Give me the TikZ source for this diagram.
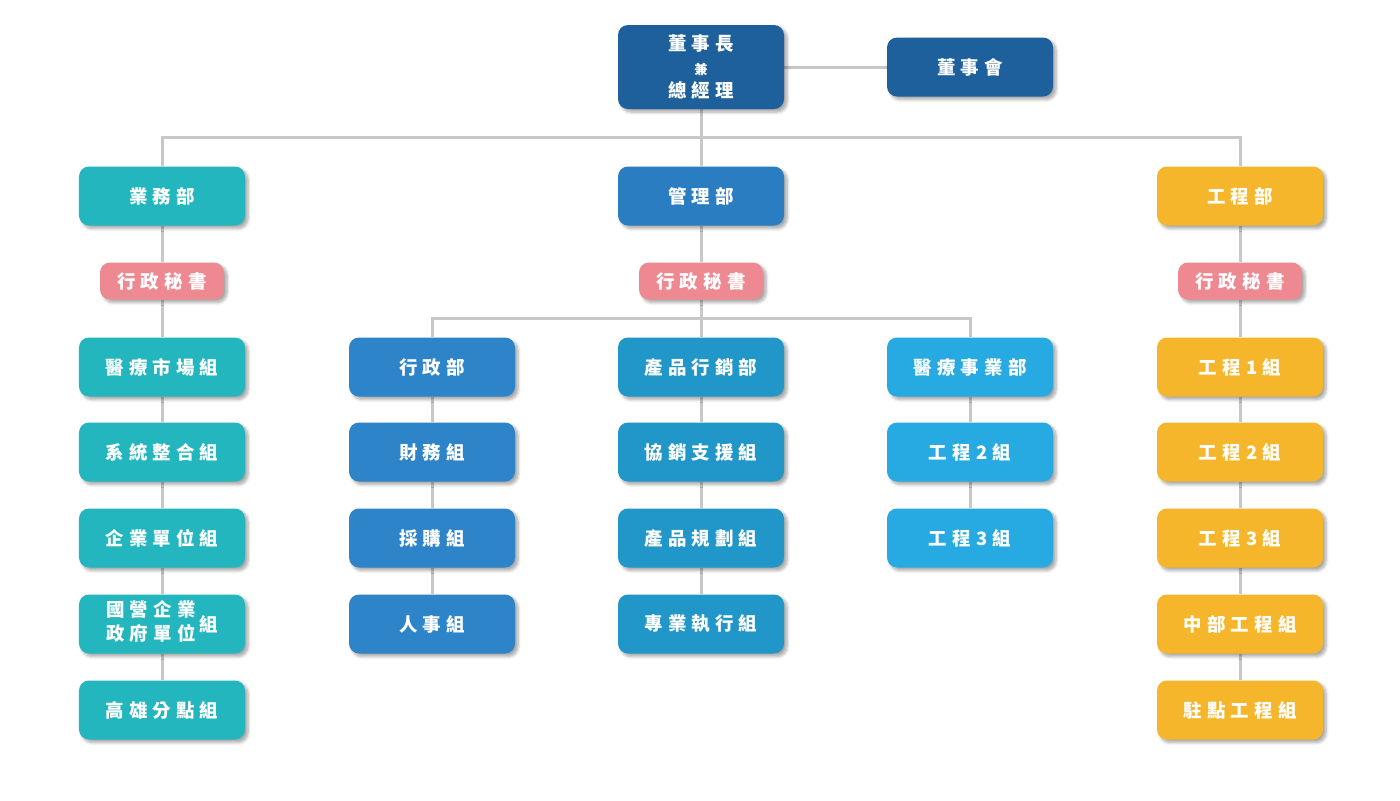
\documentclass[tikz,border=0pt]{standalone}
\usepackage{fontspec}
\newfontfamily\cjk[LetterSpace=28]{Noto Sans CJK TC}
\usetikzlibrary{shadows.blur,backgrounds}
\definecolor{ceoblue}{RGB}{30,96,156}
\definecolor{salesteal}{RGB}{35,182,190}
\definecolor{mgmtblue}{RGB}{42,125,193}
\definecolor{engyellow}{RGB}{246,182,44}
\definecolor{secpink}{RGB}{238,137,146}
\definecolor{adminblue}{RGB}{46,132,200}
\definecolor{mktblue}{RGB}{33,150,200}
\definecolor{medblue}{RGB}{39,170,225}
\definecolor{linegray}{RGB}{200,200,200}
\tikzset{orgbox/.style={rounded corners=2mm,minimum width=33.2mm,minimum height=11.8mm,
    text=white,inner sep=1pt,font=\cjk\bfseries\fontsize{10.5}{13.5}\selectfont,
    blur shadow={shadow xshift=0.6mm,shadow yshift=-0.6mm,shadow blur steps=6,shadow opacity=35}}}
\tikzset{secbox/.style={orgbox,fill=secpink,minimum width=24.8mm,minimum height=7.4mm}}
\tikzset{link/.style={draw=linegray,line width=0.6mm}}

\begin{document}
\begin{tikzpicture}[x=0.2mm,y=-0.2mm]
      \useasboundingbox (0,0) rectangle (1400,800);
      % top
      \node[orgbox,fill=ceoblue,minimum height=16.8mm,align=center] (ceo) at (701,67)
        {董事長\\[0pt]{\fontsize{7.5}{8}\selectfont 兼}\\[0pt]總經理};
      \node[orgbox,fill=ceoblue] (board) at (970,67) {董事會};
      % departments
      \node[orgbox,fill=salesteal] (sales) at (162,196) {業務部};
      \node[orgbox,fill=mgmtblue] (mgmt) at (701,196) {管理部};
      \node[orgbox,fill=engyellow] (eng) at (1240,196) {工程部};
      \node[secbox] (ssec) at (162,281) {行政秘書};
      \node[secbox] (msec) at (701,281) {行政秘書};
      \node[secbox] (esec) at (1240,281) {行政秘書};
      % sales column
      \node[orgbox,fill=salesteal] (s1) at (162,367) {醫療市場組};
      \node[orgbox,fill=salesteal] (s2) at (162,452) {系統整合組};
      \node[orgbox,fill=salesteal] (s3) at (162,538) {企業單位組};
      \node[orgbox,fill=salesteal] (s4) at (162,624)
        {\begin{tabular}{@{}l@{}}國營企業\\[0pt]政府單位\end{tabular}\hspace{2pt}\raisebox{-1.5pt}{組}};
      \node[orgbox,fill=salesteal] (s5) at (162,710) {高雄分點組};
      % management columns
      \node[orgbox,fill=adminblue] (a1) at (432,367) {行政部};
      \node[orgbox,fill=adminblue] (a2) at (432,452) {財務組};
      \node[orgbox,fill=adminblue] (a3) at (432,538) {採購組};
      \node[orgbox,fill=adminblue] (a4) at (432,624) {人事組};
      \node[orgbox,fill=mktblue] (p1) at (701,367) {產品行銷部};
      \node[orgbox,fill=mktblue] (p2) at (701,452) {協銷支援組};
      \node[orgbox,fill=mktblue] (p3) at (701,538) {產品規劃組};
      \node[orgbox,fill=mktblue] (p4) at (701,624) {專業執行組};
      \node[orgbox,fill=medblue] (m1) at (970,367) {醫療事業部};
      \node[orgbox,fill=medblue] (m2) at (970,452) {工程2組};
      \node[orgbox,fill=medblue] (m3) at (970,538) {工程3組};
      % engineering column
      \node[orgbox,fill=engyellow] (e1) at (1240,367) {工程1組};
      \node[orgbox,fill=engyellow] (e2) at (1240,452) {工程2組};
      \node[orgbox,fill=engyellow] (e3) at (1240,538) {工程3組};
      \node[orgbox,fill=engyellow] (e4) at (1240,624) {中部工程組};
      \node[orgbox,fill=engyellow] (e5) at (1240,710) {駐點工程組};
      \coordinate (bus) at (701,137);
      \coordinate (mbus) at (701,318);
      \begin{scope}[on background layer]
        \draw[link] (ceo) -- (board);
        \draw[link] (ceo) -- (mgmt);
        \draw[link] (sales.north) |- (bus) -| (eng.north);
        \draw[link] (sales) -- (ssec) -- (s1);
        \draw[link] (mgmt) -- (msec) -- (p1);
        \draw[link] (eng) -- (esec) -- (e1);
        \draw[link] (a1.north) |- (mbus) -| (m1.north);
        \foreach \i [count=\j from 2] in {1,...,4} {
          \draw[link] (s\i) -- (s\j);
          \draw[link] (e\i) -- (e\j);
        }
        \foreach \i [count=\j from 2] in {1,...,3} {
          \draw[link] (a\i) -- (a\j);
          \draw[link] (p\i) -- (p\j);
        }
        \foreach \i [count=\j from 2] in {1,2}
          \draw[link] (m\i) -- (m\j);
      \end{scope}
    \end{tikzpicture}
\end{document}
